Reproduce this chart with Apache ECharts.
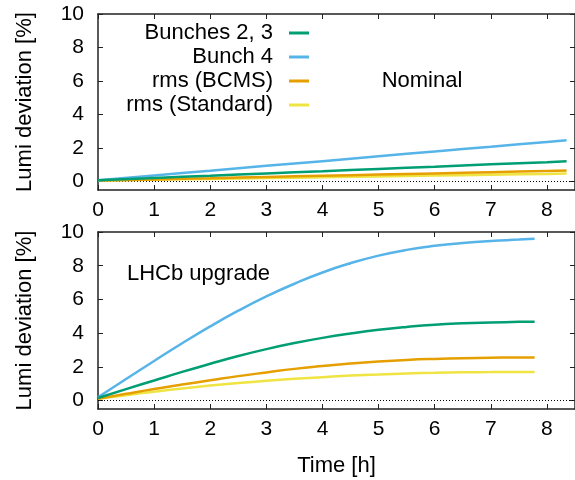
<!DOCTYPE html>
<html>
<head>
<meta charset="utf-8">
<script src="https://cdn.jsdelivr.net/npm/echarts@6/dist/echarts.min.js"></script>
<style>
html,body{margin:0;padding:0;background:#fff;}
#chart{width:575px;height:480px;}
</style>
</head>
<body>
<div id="chart"></div>
<script>
// ---- data ----
const seriesNames = ['Bunches 2, 3', 'Bunch 4', 'rms (BCMS)', 'rms (Standard)'];
const seriesColors = ['#009e73', '#56b4e9', '#e69f00', '#f0e442'];
const xTicks = [0, 1, 2, 3, 4, 5, 6, 7, 8];
const yTicks = [0, 2, 4, 6, 8, 10];

// Nominal (top panel)
const hoursNominal = [0, 1, 2, 3, 4, 5, 6, 7, 8, 8.35];
const nomBunches23 = [0.08, 0.22, 0.35, 0.49, 0.62, 0.76, 0.89, 1.03, 1.16, 1.21];
const nomBunch4    = [0.08, 0.37, 0.65, 0.94, 1.22, 1.51, 1.80, 2.08, 2.37, 2.47];
const nomRmsBCMS   = [0.06, 0.13, 0.20, 0.28, 0.35, 0.42, 0.49, 0.56, 0.64, 0.66];
const nomRmsStd    = [0.06, 0.11, 0.16, 0.21, 0.26, 0.31, 0.36, 0.41, 0.46, 0.48];

// LHCb upgrade (bottom panel)
const hoursUpgrade = [0, 0.5, 1, 1.5, 2, 2.5, 3, 3.5, 4, 4.5, 5, 5.5, 6, 6.5, 7, 7.5, 7.78];
const upgBunches23 = [0.15, 0.68, 1.19, 1.7, 2.18, 2.64, 3.05, 3.41, 3.72, 3.98, 4.2, 4.37, 4.5, 4.58, 4.63, 4.67, 4.68];
const upgBunch4    = [0.2, 1.28, 2.35, 3.4, 4.4, 5.33, 6.18, 6.93, 7.6, 8.15, 8.6, 8.94, 9.18, 9.35, 9.47, 9.55, 9.6];
const upgRmsBCMS   = [0.1, 0.4, 0.69, 0.95, 1.2, 1.45, 1.67, 1.88, 2.05, 2.2, 2.32, 2.41, 2.47, 2.51, 2.54, 2.56, 2.56];
const upgRmsStd    = [0.1, 0.32, 0.53, 0.72, 0.89, 1.04, 1.17, 1.29, 1.39, 1.48, 1.55, 1.61, 1.65, 1.68, 1.69, 1.7, 1.7];

const nominalSets = [nomBunches23, nomBunch4, nomRmsBCMS, nomRmsStd];
const upgradeSets = [upgBunches23, upgBunch4, upgRmsBCMS, upgRmsStd];

// ---- chart ----
const FONT = 'Liberation Sans, Arial, Helvetica, sans-serif';
const FS = 22;
const FS_TICK = 21;
const chart = echarts.init(document.getElementById('chart'), null, {renderer: 'canvas'});

const grids = [
  {left: 98, top: 14, width: 478, height: 176},
  {left: 98, top: 232, width: 478, height: 177}
];

function xAxisFor(gi, bottom) {
  return {
    type: 'value', gridIndex: gi, min: 0, max: 8.5,
    position: bottom ? 'bottom' : 'top',
    axisLine: {show: true, onZero: false, lineStyle: {color: '#222', width: 1.5}},
    axisTick: {show: true, inside: true, length: 5, customValues: xTicks, lineStyle: {color: '#222', width: 1}},
    axisLabel: {show: bottom, customValues: xTicks, margin: 10, fontSize: FS_TICK, color: '#000', fontFamily: FONT},
    splitLine: {show: false},
    name: (bottom && gi === 1) ? 'Time [h]' : '',
    nameLocation: 'middle', nameGap: 46,
    nameTextStyle: {fontSize: FS, color: '#000', fontFamily: FONT}
  };
}
function yAxisFor(gi, left) {
  return {
    type: 'value', gridIndex: gi, min: -0.5, max: 10,
    position: left ? 'left' : 'right',
    axisLine: {show: true, onZero: false, lineStyle: {color: '#222', width: 1.5}},
    axisTick: {show: true, inside: true, length: 5, customValues: yTicks, lineStyle: {color: '#222', width: 1}},
    axisLabel: {show: left, customValues: yTicks, margin: 14, fontSize: FS_TICK, color: '#000', fontFamily: FONT},
    splitLine: {show: false},
    name: left ? 'Lumi deviation [%]' : '',
    nameLocation: 'middle', nameGap: 62,
    nameTextStyle: {fontSize: FS, color: '#000', fontFamily: FONT}
  };
}

const xAxes = [xAxisFor(0, true), xAxisFor(0, false), xAxisFor(1, true), xAxisFor(1, false)];
const yAxes = [yAxisFor(0, true), yAxisFor(0, false), yAxisFor(1, true), yAxisFor(1, false)];

function zeroLine() {
  return {
    silent: true, symbol: 'none', label: {show: false},
    lineStyle: {color: '#000', type: [1, 2], width: 1},
    data: [{yAxis: 0}]
  };
}

const series = [];
seriesNames.forEach((name, i) => {
  series.push({
    name: name, type: 'line', xAxisIndex: 0, yAxisIndex: 0,
    data: hoursNominal.map((h, k) => [h, nominalSets[i][k]]),
    showSymbol: false, symbol: 'none', smooth: true,
    lineStyle: {color: seriesColors[i], width: 2.5}, itemStyle: {color: seriesColors[i]},
    z: 10 - i,
    markLine: i === 0 ? zeroLine() : undefined
  });
});
seriesNames.forEach((name, i) => {
  series.push({
    name: name, type: 'line', xAxisIndex: 2, yAxisIndex: 2,
    data: hoursUpgrade.map((h, k) => [h, upgradeSets[i][k]]),
    showSymbol: false, symbol: 'none', smooth: true,
    lineStyle: {color: seriesColors[i], width: 2.5}, itemStyle: {color: seriesColors[i]},
    z: 10 - i,
    markLine: i === 0 ? zeroLine() : undefined
  });
});

const legendRowsY = [34, 58, 82, 106];
const legends = seriesNames.map((name, i) => ({
  data: [name],
  orient: 'vertical', align: 'right',
  right: 266, top: legendRowsY[i] - 12,
  padding: 0, itemWidth: 20, itemHeight: 3, icon: 'rect',
  selectedMode: false,
  textStyle: {fontSize: FS, color: '#000', fontFamily: FONT, padding: [0, 11, 0, 0]}
}));

chart.setOption({
  animation: false,
  backgroundColor: '#fff',
  grid: grids,
  xAxis: xAxes,
  yAxis: yAxes,
  legend: legends,
  series: series,
  graphic: [
    {type: 'text', x: 422, y: 81, style: {text: 'Nominal', fill: '#000', font: FS + 'px ' + FONT, textAlign: 'center', textVerticalAlign: 'middle'}},
    {type: 'text', x: 127, y: 274, style: {text: 'LHCb upgrade', fill: '#000', font: FS + 'px ' + FONT, textAlign: 'left', textVerticalAlign: 'middle'}}
  ]
});
</script>
</body>
</html>
